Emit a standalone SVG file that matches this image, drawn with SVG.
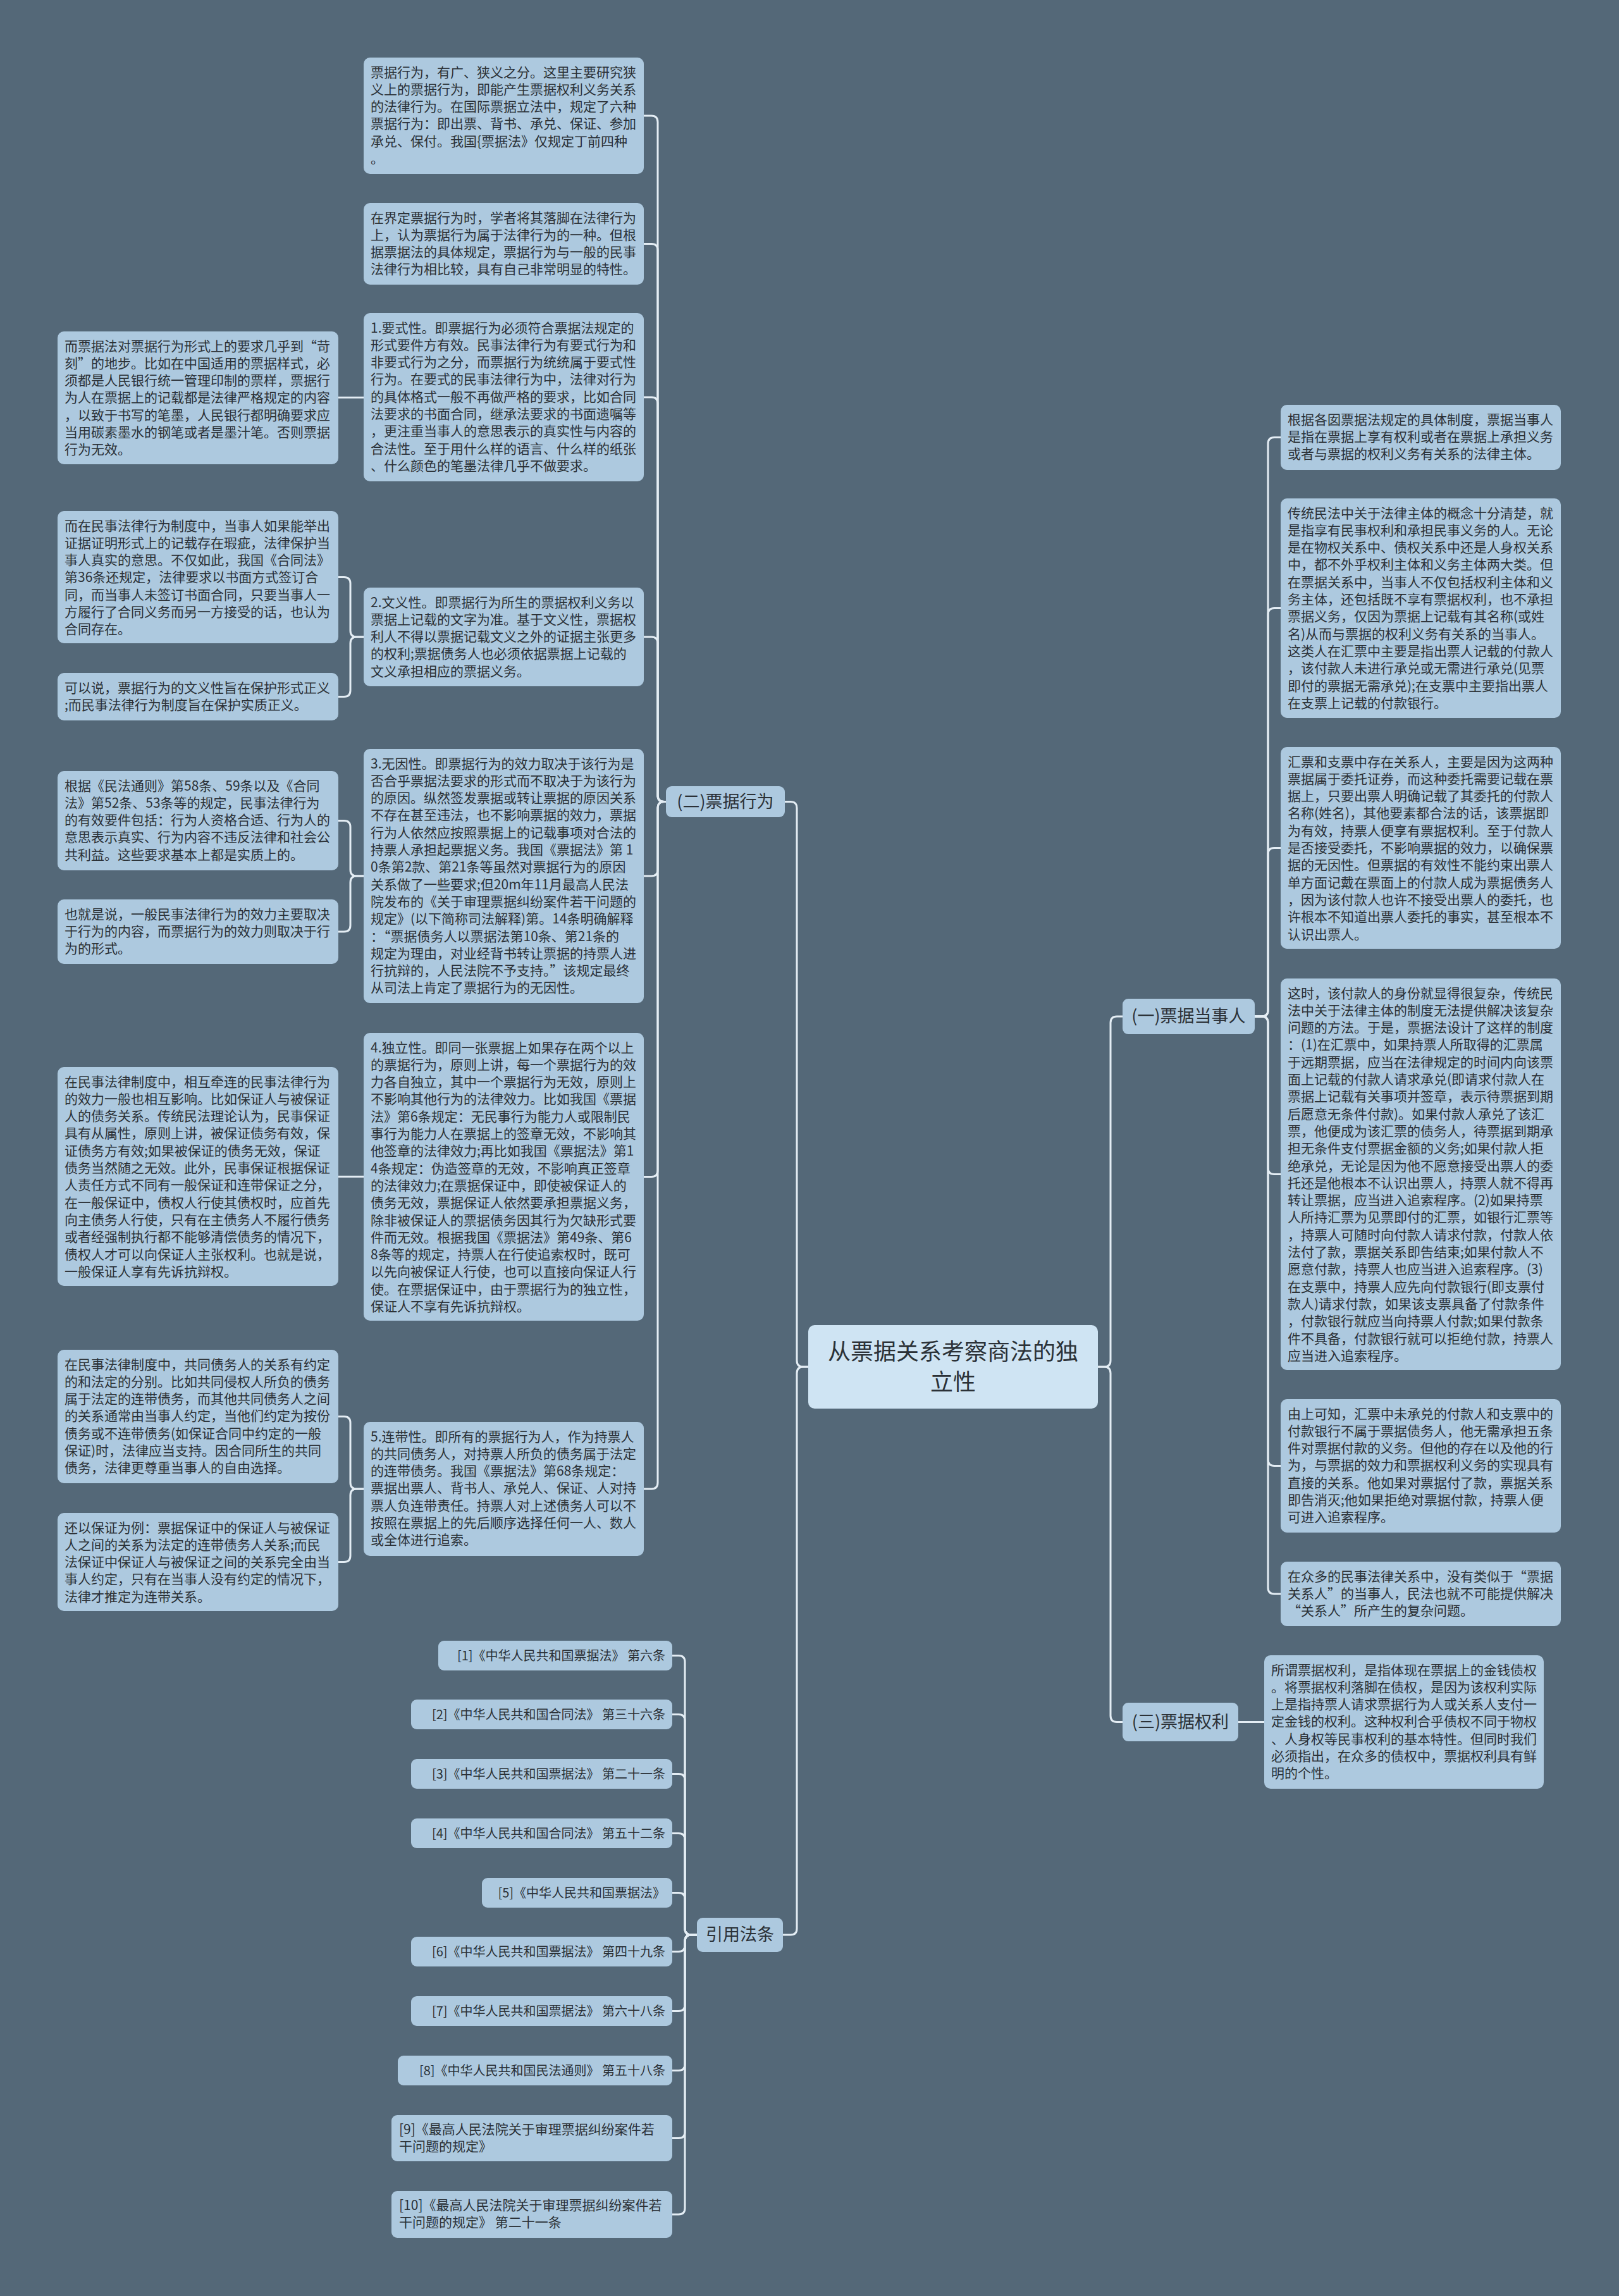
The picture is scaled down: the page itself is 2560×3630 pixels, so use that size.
<svg xmlns="http://www.w3.org/2000/svg" width="2560" height="3630" viewBox="0 0 2560 3630">
<style>
.n{fill:#adc9df}
.cn{fill:#cfe4f3}
.t{font-family:"Noto Sans CJK SC","Noto Sans",sans-serif;font-size:21px;fill:#2b3137}
.rt{font-family:"Noto Sans CJK SC","Noto Sans",sans-serif;font-size:20px;fill:#2b3137;text-anchor:end}
.b{font-family:"Noto Sans CJK SC","Noto Sans",sans-serif;font-size:27px;fill:#2b3137;text-anchor:middle}
.ct{font-family:"Noto Sans CJK SC","Noto Sans",sans-serif;font-size:36px;fill:#2b3137;text-anchor:middle}
.c{fill:none;stroke:#e4edf4;stroke-width:3}
</style>
<rect x="0" y="0" width="2560" height="3630" fill="#546878"/>

<g id="connectors">
<path class="c" d="M1278,2161 H1270 Q1260,2161 1260,2151 V1277.5 Q1260,1267.5 1250,1267.5 H1241"/>
<path class="c" d="M1278,2161 H1270 Q1260,2161 1260,2171 V3049 Q1260,3059 1250,3059 H1238"/>
<path class="c" d="M1736,2161 H1746 Q1756,2161 1756,2151 V1617 Q1756,1607 1766,1607 H1775"/>
<path class="c" d="M1736,2161 H1746 Q1756,2161 1756,2171 V2712.5 Q1756,2722.5 1766,2722.5 H1775"/>

<path class="c" d="M1053,1267.5 H1050 Q1040,1267.5 1040,1257.5 V193 Q1040,183 1030,183 H1018"/>
<path class="c" d="M1053,1267.5 H1050 Q1040,1267.5 1040,1257.5 V395.5 Q1040,385.5 1030,385.5 H1018"/>
<path class="c" d="M1053,1267.5 H1050 Q1040,1267.5 1040,1257.5 V638 Q1040,628 1030,628 H1018"/>
<path class="c" d="M1053,1267.5 H1050 Q1040,1267.5 1040,1257.5 V1017 Q1040,1007 1030,1007 H1018"/>
<path class="c" d="M1053,1267.5 H1050 Q1040,1267.5 1040,1277.5 V1375 Q1040,1385 1030,1385 H1018"/>
<path class="c" d="M1053,1267.5 H1050 Q1040,1267.5 1040,1277.5 V1850.5 Q1040,1860.5 1030,1860.5 H1018"/>
<path class="c" d="M1053,1267.5 H1050 Q1040,1267.5 1040,1277.5 V2344 Q1040,2354 1030,2354 H1018"/>

<path class="c" d="M575,628.5 H535"/>
<path class="c" d="M575,1007 H564 Q554,1007 554,997 V922.5 Q554,912.5 544,912.5 H535"/>
<path class="c" d="M575,1007 H564 Q554,1007 554,1017 V1091.5 Q554,1101.5 544,1101.5 H535"/>
<path class="c" d="M575,1385 H564 Q554,1385 554,1375 V1307.5 Q554,1297.5 544,1297.5 H535"/>
<path class="c" d="M575,1385 H564 Q554,1385 554,1395 V1463 Q554,1473 544,1473 H535"/>
<path class="c" d="M575,1860.3 H535"/>
<path class="c" d="M575,2354 H564 Q554,2354 554,2344 V2249.5 Q554,2239.5 544,2239.5 H535"/>
<path class="c" d="M575,2354 H564 Q554,2354 554,2364 V2459.5 Q554,2469.5 544,2469.5 H535"/>

<path class="c" d="M1984,1607 H1995 Q2005,1607 2005,1597 V701.5 Q2005,691.5 2015,691.5 H2025"/>
<path class="c" d="M1984,1607 H1995 Q2005,1607 2005,1597 V971.5 Q2005,961.5 2015,961.5 H2025"/>
<path class="c" d="M1984,1607 H1995 Q2005,1607 2005,1597 V1350.5 Q2005,1340.5 2015,1340.5 H2025"/>
<path class="c" d="M1984,1607 H1995 Q2005,1607 2005,1617 V1846.5 Q2005,1856.5 2015,1856.5 H2025"/>
<path class="c" d="M1984,1607 H1995 Q2005,1607 2005,1617 V2307.5 Q2005,2317.5 2015,2317.5 H2025"/>
<path class="c" d="M1984,1607 H1995 Q2005,1607 2005,1617 V2510 Q2005,2520 2015,2520 H2025"/>

<path class="c" d="M1958,2722.5 H1999"/>

<path class="c" d="M1102,3059 H1093 Q1083,3059 1083,3049 V2627.5 Q1083,2617.5 1073,2617.5 H1063"/>
<path class="c" d="M1102,3059 H1093 Q1083,3059 1083,3049 V2720.5 Q1083,2710.5 1073,2710.5 H1063"/>
<path class="c" d="M1102,3059 H1093 Q1083,3059 1083,3049 V2814.5 Q1083,2804.5 1073,2804.5 H1063"/>
<path class="c" d="M1102,3059 H1093 Q1083,3059 1083,3049 V2908.5 Q1083,2898.5 1073,2898.5 H1063"/>
<path class="c" d="M1102,3059 H1093 Q1083,3059 1083,3049 V3002.5 Q1083,2992.5 1073,2992.5 H1063"/>
<path class="c" d="M1102,3059 H1093 Q1083,3059 1083,3069 V3075.5 Q1083,3085.5 1073,3085.5 H1063"/>
<path class="c" d="M1102,3059 H1093 Q1083,3059 1083,3069 V3169.5 Q1083,3179.5 1073,3179.5 H1063"/>
<path class="c" d="M1102,3059 H1093 Q1083,3059 1083,3069 V3263.5 Q1083,3273.5 1073,3273.5 H1063"/>
<path class="c" d="M1102,3059 H1093 Q1083,3059 1083,3069 V3370.5 Q1083,3380.5 1073,3380.5 H1063"/>
<path class="c" d="M1102,3059 H1093 Q1083,3059 1083,3069 V3491 Q1083,3501 1073,3501 H1063"/>
</g>

<g id="center">
<rect class="cn" x="1278" y="2095" width="458" height="132" rx="10"/>
<text class="ct" x="1507" y="2150">从票据关系考察商法的独</text>
<text class="ct" x="1507" y="2198">立性</text>
</g>

<g id="branch-xingwei">
<rect class="n" x="1053" y="1243" width="188" height="49" rx="9"/>
<text class="b" x="1147" y="1277">(二)票据行为</text>
</g>
<g id="branch-dangshiren">
<rect class="n" x="1775" y="1579" width="209" height="56" rx="9"/>
<text class="b" x="1879.5" y="1616">(一)票据当事人</text>
</g>
<g id="branch-quanli">
<rect class="n" x="1775" y="2692" width="183" height="61" rx="9"/>
<text class="b" x="1866.5" y="2732">(三)票据权利</text>
</g>
<g id="branch-fatiao">
<rect class="n" x="1102" y="3032" width="136" height="54" rx="9"/>
<text class="b" x="1170" y="3068">引用法条</text>
</g>

<g id="node-a">
<rect class="n" x="575" y="91" width="443" height="184" rx="10"/>
<text class="t" x="586" y="121.5"><tspan x="586">票据行为，有广、狭义之分。这里主要研究狭</tspan><tspan x="586" dy="27.3">义上的票据行为，即能产生票据权利义务关系</tspan><tspan x="586" dy="27.3">的法律行为。在国际票据立法中，规定了六种</tspan><tspan x="586" dy="27.3">票据行为：即出票、背书、承兑、保证、参加</tspan><tspan x="586" dy="27.3">承兑、保付。我国{票据法》仅规定丁前四种</tspan><tspan x="586" dy="27.3">。</tspan></text>
</g>
<g id="node-b">
<rect class="n" x="575" y="321" width="443" height="129" rx="10"/>
<text class="t" x="586" y="351.5"><tspan x="586">在界定票据行为时，学者将其落脚在法律行为</tspan><tspan x="586" dy="27.3">上，认为票据行为属于法律行为的一种。但根</tspan><tspan x="586" dy="27.3">据票据法的具体规定，票据行为与一般的民事</tspan><tspan x="586" dy="27.3">法律行为相比较，具有自己非常明显的特性。</tspan></text>
</g>
<g id="node-c">
<rect class="n" x="575" y="495" width="443" height="266" rx="10"/>
<text class="t" x="586" y="525.5"><tspan x="586">1.要式性。即票据行为必须符合票据法规定的</tspan><tspan x="586" dy="27.3">形式要件方有效。民事法律行为有要式行为和</tspan><tspan x="586" dy="27.3">非要式行为之分，而票据行为统统属于要式性</tspan><tspan x="586" dy="27.3">行为。在要式的民事法律行为中，法律对行为</tspan><tspan x="586" dy="27.3">的具体格式一般不再做严格的要求，比如合同</tspan><tspan x="586" dy="27.3">法要求的书面合同，继承法要求的书面遗嘱等</tspan><tspan x="586" dy="27.3">，更注重当事人的意思表示的真实性与内容的</tspan><tspan x="586" dy="27.3">合法性。至于用什么样的语言、什么样的纸张</tspan><tspan x="586" dy="27.3">、什么颜色的笔墨法律几乎不做要求。</tspan></text>
</g>
<g id="node-d">
<rect class="n" x="575" y="929" width="443" height="156" rx="10"/>
<text class="t" x="586" y="959.5"><tspan x="586">2.文义性。即票据行为所生的票据权利义务以</tspan><tspan x="586" dy="27.3">票据上记载的文字为准。基于文义性，票据权</tspan><tspan x="586" dy="27.3">利人不得以票据记载文义之外的证据主张更多</tspan><tspan x="586" dy="27.3">的权利;票据债务人也必须依据票据上记载的</tspan><tspan x="586" dy="27.3">文义承担相应的票据义务。</tspan></text>
</g>
<g id="node-e">
<rect class="n" x="575" y="1184" width="443" height="402" rx="10"/>
<text class="t" x="586" y="1214.5"><tspan x="586">3.无因性。即票据行为的效力取决于该行为是</tspan><tspan x="586" dy="27.3">否合乎票据法要求的形式而不取决于为该行为</tspan><tspan x="586" dy="27.3">的原因。纵然签发票据或转让票据的原因关系</tspan><tspan x="586" dy="27.3">不存在甚至违法，也不影响票据的效力，票据</tspan><tspan x="586" dy="27.3">行为人依然应按照票据上的记载事项对合法的</tspan><tspan x="586" dy="27.3">持票人承担起票据义务。我国《票据法》第 1</tspan><tspan x="586" dy="27.3">0条第2款、第21条等虽然对票据行为的原因</tspan><tspan x="586" dy="27.3">关系做了一些要求;但20m年11月最高人民法</tspan><tspan x="586" dy="27.3">院发布的《关于审理票据纠纷案件若干问题的</tspan><tspan x="586" dy="27.3">规定》(以下简称司法解释)第。14条明确解释</tspan><tspan x="586" dy="27.3">：“票据债务人以票据法第10条、第21条的</tspan><tspan x="586" dy="27.3">规定为理由，对业经背书转让票据的持票人进</tspan><tspan x="586" dy="27.3">行抗辩的，人民法院不予支持。”该规定最终</tspan><tspan x="586" dy="27.3">从司法上肯定了票据行为的无因性。</tspan></text>
</g>
<g id="node-f">
<rect class="n" x="575" y="1633" width="443" height="455" rx="10"/>
<text class="t" x="586" y="1663.5"><tspan x="586">4.独立性。即同一张票据上如果存在两个以上</tspan><tspan x="586" dy="27.3">的票据行为，原则上讲，每一个票据行为的效</tspan><tspan x="586" dy="27.3">力各自独立，其中一个票据行为无效，原则上</tspan><tspan x="586" dy="27.3">不影响其他行为的法律效力。比如我国《票据</tspan><tspan x="586" dy="27.3">法》第6条规定：无民事行为能力人或限制民</tspan><tspan x="586" dy="27.3">事行为能力人在票据上的签章无效，不影响其</tspan><tspan x="586" dy="27.3">他签章的法律效力;再比如我国《票据法》第1</tspan><tspan x="586" dy="27.3">4条规定：伪造签章的无效，不影响真正签章</tspan><tspan x="586" dy="27.3">的法律效力;在票据保证中，即使被保证人的</tspan><tspan x="586" dy="27.3">债务无效，票据保证人依然要承担票据义务，</tspan><tspan x="586" dy="27.3">除非被保证人的票据债务因其行为欠缺形式要</tspan><tspan x="586" dy="27.3">件而无效。根据我国《票据法》第49条、第6</tspan><tspan x="586" dy="27.3">8条等的规定，持票人在行使追索权时，既可</tspan><tspan x="586" dy="27.3">以先向被保证人行使，也可以直接向保证人行</tspan><tspan x="586" dy="27.3">使。在票据保证中，由于票据行为的独立性，</tspan><tspan x="586" dy="27.3">保证人不享有先诉抗辩权。</tspan></text>
</g>
<g id="node-g">
<rect class="n" x="575" y="2248" width="443" height="212" rx="10"/>
<text class="t" x="586" y="2278.5"><tspan x="586">5.连带性。即所有的票据行为人，作为持票人</tspan><tspan x="586" dy="27.3">的共同债务人，对持票人所负的债务属于法定</tspan><tspan x="586" dy="27.3">的连带债务。我国《票据法》第68条规定：</tspan><tspan x="586" dy="27.3">票据出票人、背书人、承兑人、保证、人对持</tspan><tspan x="586" dy="27.3">票人负连带责任。持票人对上述债务人可以不</tspan><tspan x="586" dy="27.3">按照在票据上的先后顺序选择任何一人、数人</tspan><tspan x="586" dy="27.3">或全体进行追索。</tspan></text>
</g>

<g id="node-h">
<rect class="n" x="91" y="524" width="444" height="210" rx="10"/>
<text class="t" x="102" y="554.5"><tspan x="102">而票据法对票据行为形式上的要求几乎到“苛</tspan><tspan x="102" dy="27.3">刻”的地步。比如在中国适用的票据样式，必</tspan><tspan x="102" dy="27.3">须都是人民银行统一管理印制的票样，票据行</tspan><tspan x="102" dy="27.3">为人在票据上的记载都是法律严格规定的内容</tspan><tspan x="102" dy="27.3">，以致于书写的笔墨，人民银行都明确要求应</tspan><tspan x="102" dy="27.3">当用碳素墨水的钢笔或者是墨汁笔。否则票据</tspan><tspan x="102" dy="27.3">行为无效。</tspan></text>
</g>
<g id="node-i">
<rect class="n" x="91" y="808" width="444" height="209" rx="10"/>
<text class="t" x="102" y="838.5"><tspan x="102">而在民事法律行为制度中，当事人如果能举出</tspan><tspan x="102" dy="27.3">证据证明形式上的记载存在瑕疵，法律保护当</tspan><tspan x="102" dy="27.3">事人真实的意思。不仅如此，我国《合同法》</tspan><tspan x="102" dy="27.3">第36条还规定，法律要求以书面方式签订合</tspan><tspan x="102" dy="27.3">同，而当事人未签订书面合同，只要当事人一</tspan><tspan x="102" dy="27.3">方履行了合同义务而另一方接受的话，也认为</tspan><tspan x="102" dy="27.3">合同存在。</tspan></text>
</g>
<g id="node-j">
<rect class="n" x="91" y="1064" width="444" height="75" rx="10"/>
<text class="t" x="102" y="1094.5"><tspan x="102">可以说，票据行为的文义性旨在保护形式正义</tspan><tspan x="102" dy="27.3">;而民事法律行为制度旨在保护实质正义。</tspan></text>
</g>
<g id="node-k">
<rect class="n" x="91" y="1219" width="444" height="157" rx="10"/>
<text class="t" x="102" y="1249.5"><tspan x="102">根据《民法通则》第58条、59条以及《合同</tspan><tspan x="102" dy="27.3">法》第52条、53条等的规定，民事法律行为</tspan><tspan x="102" dy="27.3">的有效要件包括：行为人资格合适、行为人的</tspan><tspan x="102" dy="27.3">意思表示真实、行为内容不违反法律和社会公</tspan><tspan x="102" dy="27.3">共利益。这些要求基本上都是实质上的。</tspan></text>
</g>
<g id="node-l">
<rect class="n" x="91" y="1422" width="444" height="102" rx="10"/>
<text class="t" x="102" y="1452.5"><tspan x="102">也就是说，一般民事法律行为的效力主要取决</tspan><tspan x="102" dy="27.3">于行为的内容，而票据行为的效力则取决于行</tspan><tspan x="102" dy="27.3">为的形式。</tspan></text>
</g>
<g id="node-m">
<rect class="n" x="91" y="1687" width="444" height="346" rx="10"/>
<text class="t" x="102" y="1717.5"><tspan x="102">在民事法律制度中，相互牵连的民事法律行为</tspan><tspan x="102" dy="27.3">的效力一般也相互影响。比如保证人与被保证</tspan><tspan x="102" dy="27.3">人的债务关系。传统民法理论认为，民事保证</tspan><tspan x="102" dy="27.3">具有从属性，原则上讲，被保证债务有效，保</tspan><tspan x="102" dy="27.3">证债务方有效;如果被保证的债务无效，保证</tspan><tspan x="102" dy="27.3">债务当然随之无效。此外，民事保证根据保证</tspan><tspan x="102" dy="27.3">人责任方式不同有一般保证和连带保证之分，</tspan><tspan x="102" dy="27.3">在一般保证中，债权人行使其债权时，应首先</tspan><tspan x="102" dy="27.3">向主债务人行使，只有在主债务人不履行债务</tspan><tspan x="102" dy="27.3">或者经强制执行都不能够清偿债务的情况下，</tspan><tspan x="102" dy="27.3">债权人才可以向保证人主张权利。也就是说，</tspan><tspan x="102" dy="27.3">一般保证人享有先诉抗辩权。</tspan></text>
</g>
<g id="node-n">
<rect class="n" x="91" y="2134" width="444" height="211" rx="10"/>
<text class="t" x="102" y="2164.5"><tspan x="102">在民事法律制度中，共同债务人的关系有约定</tspan><tspan x="102" dy="27.3">的和法定的分别。比如共同侵权人所负的债务</tspan><tspan x="102" dy="27.3">属于法定的连带债务，而其他共同债务人之间</tspan><tspan x="102" dy="27.3">的关系通常由当事人约定，当他们约定为按份</tspan><tspan x="102" dy="27.3">债务或不连带债务(如保证合同中约定的一般</tspan><tspan x="102" dy="27.3">保证)时，法律应当支持。因合同所生的共同</tspan><tspan x="102" dy="27.3">债务，法律更尊重当事人的自由选择。</tspan></text>
</g>
<g id="node-o">
<rect class="n" x="91" y="2392" width="444" height="155" rx="10"/>
<text class="t" x="102" y="2422.5"><tspan x="102">还以保证为例：票据保证中的保证人与被保证</tspan><tspan x="102" dy="27.3">人之间的关系为法定的连带债务人关系;而民</tspan><tspan x="102" dy="27.3">法保证中保证人与被保证之间的关系完全由当</tspan><tspan x="102" dy="27.3">事人约定，只有在当事人没有约定的情况下，</tspan><tspan x="102" dy="27.3">法律才推定为连带关系。</tspan></text>
</g>

<g id="node-p">
<rect class="n" x="2025" y="640" width="443" height="103" rx="10"/>
<text class="t" x="2036" y="670.5"><tspan x="2036">根据各囡票据法规定的具体制度，票据当事人</tspan><tspan x="2036" dy="27.3">是指在票据上享有权利或者在票据上承担义务</tspan><tspan x="2036" dy="27.3">或者与票据的权利义务有关系的法律主体。</tspan></text>
</g>
<g id="node-q">
<rect class="n" x="2025" y="788" width="443" height="347" rx="10"/>
<text class="t" x="2036" y="818.5"><tspan x="2036">传统民法中关于法律主体的概念十分清楚，就</tspan><tspan x="2036" dy="27.3">是指享有民事权利和承担民事义务的人。无论</tspan><tspan x="2036" dy="27.3">是在物权关系中、债权关系中还是人身权关系</tspan><tspan x="2036" dy="27.3">中，都不外乎权利主体和义务主体两大类。但</tspan><tspan x="2036" dy="27.3">在票据关系中，当事人不仅包括权利主体和义</tspan><tspan x="2036" dy="27.3">务主体，还包括既不享有票据权利，也不承担</tspan><tspan x="2036" dy="27.3">票据义务，仅因为票据上记载有其名称(或姓</tspan><tspan x="2036" dy="27.3">名)从而与票据的权利义务有关系的当事人。</tspan><tspan x="2036" dy="27.3">这类人在汇票中主要是指出票人记载的付款人</tspan><tspan x="2036" dy="27.3">，该付款人未进行承兑或无需进行承兑(见票</tspan><tspan x="2036" dy="27.3">即付的票据无需承兑);在支票中主要指出票人</tspan><tspan x="2036" dy="27.3">在支票上记载的付款银行。</tspan></text>
</g>
<g id="node-r">
<rect class="n" x="2025" y="1181" width="443" height="319" rx="10"/>
<text class="t" x="2036" y="1211.5"><tspan x="2036">汇票和支票中存在关系人，主要是因为这两种</tspan><tspan x="2036" dy="27.3">票据属于委托证券，而这种委托需要记载在票</tspan><tspan x="2036" dy="27.3">据上，只要出票人明确记载了其委托的付款人</tspan><tspan x="2036" dy="27.3">名称(姓名)，其他要素都合法的话，该票据即</tspan><tspan x="2036" dy="27.3">为有效，持票人便享有票据权利。至于付款人</tspan><tspan x="2036" dy="27.3">是否接受委托，不影响票据的效力，以确保票</tspan><tspan x="2036" dy="27.3">据的无因性。但票据的有效性不能约束出票人</tspan><tspan x="2036" dy="27.3">单方面记戴在票面上的付款人成为票据债务人</tspan><tspan x="2036" dy="27.3">，因为该付款人也许不接受出票人的委托，也</tspan><tspan x="2036" dy="27.3">许根本不知道出票人委托的事实，甚至根本不</tspan><tspan x="2036" dy="27.3">认识出票人。</tspan></text>
</g>
<g id="node-s">
<rect class="n" x="2025" y="1547" width="443" height="619" rx="10"/>
<text class="t" x="2036" y="1577.5"><tspan x="2036">这时，该付款人的身份就显得很复杂，传统民</tspan><tspan x="2036" dy="27.3">法中关于法律主体的制度无法提供解决该复杂</tspan><tspan x="2036" dy="27.3">问题的方法。于是，票据法设计了这样的制度</tspan><tspan x="2036" dy="27.3">：(1)在汇票中，如果持票人所取得的汇票属</tspan><tspan x="2036" dy="27.3">于远期票据，应当在法律规定的时间内向该票</tspan><tspan x="2036" dy="27.3">面上记载的付款人请求承兑(即请求付款人在</tspan><tspan x="2036" dy="27.3">票据上记载有关事项并签章，表示待票据到期</tspan><tspan x="2036" dy="27.3">后愿意无条件付款)。如果付款人承兑了该汇</tspan><tspan x="2036" dy="27.3">票，他便成为该汇票的债务人，待票据到期承</tspan><tspan x="2036" dy="27.3">担无条件支付票据金额的义务;如果付款人拒</tspan><tspan x="2036" dy="27.3">绝承兑，无论是因为他不愿意接受出票人的委</tspan><tspan x="2036" dy="27.3">托还是他根本不认识出票人，持票人就不得再</tspan><tspan x="2036" dy="27.3">转让票据，应当进入追索程序。(2)如果持票</tspan><tspan x="2036" dy="27.3">人所持汇票为见票即付的汇票，如银行汇票等</tspan><tspan x="2036" dy="27.3">，持票人可随时向付款人请求付款，付款人依</tspan><tspan x="2036" dy="27.3">法付了款，票据关系即告结束;如果付款人不</tspan><tspan x="2036" dy="27.3">愿意付款，持票人也应当进入追索程序。(3)</tspan><tspan x="2036" dy="27.3">在支票中，持票人应先向付款银行(即支票付</tspan><tspan x="2036" dy="27.3">款人)请求付款，如果该支票具备了付款条件</tspan><tspan x="2036" dy="27.3">，付款银行就应当向持票人付款;如果付款条</tspan><tspan x="2036" dy="27.3">件不具备，付款银行就可以拒绝付款，持票人</tspan><tspan x="2036" dy="27.3">应当进入追索程序。</tspan></text>
</g>
<g id="node-t">
<rect class="n" x="2025" y="2212" width="443" height="211" rx="10"/>
<text class="t" x="2036" y="2242.5"><tspan x="2036">由上可知，汇票中未承兑的付款人和支票中的</tspan><tspan x="2036" dy="27.3">付款银行不属于票据债务人，他无需承担五条</tspan><tspan x="2036" dy="27.3">件对票据付款的义务。但他的存在以及他的行</tspan><tspan x="2036" dy="27.3">为，与票据的效力和票据权利义务的实现具有</tspan><tspan x="2036" dy="27.3">直接的关系。他如果对票据付了款，票据关系</tspan><tspan x="2036" dy="27.3">即告消灭;他如果拒绝对票据付款，持票人便</tspan><tspan x="2036" dy="27.3">可进入追索程序。</tspan></text>
</g>
<g id="node-u">
<rect class="n" x="2025" y="2469" width="443" height="102" rx="10"/>
<text class="t" x="2036" y="2499.5"><tspan x="2036">在众多的民事法律关系中，没有类似于“票据</tspan><tspan x="2036" dy="27.3">关系人”的当事人，民法也就不可能提供解决</tspan><tspan x="2036" dy="27.3">“关系人”所产生的复杂问题。</tspan></text>
</g>
<g id="node-v">
<rect class="n" x="1999" y="2617" width="442" height="211" rx="10"/>
<text class="t" x="2010" y="2647.5"><tspan x="2010">所谓票据权利，是指体现在票据上的金钱债权</tspan><tspan x="2010" dy="27.3">。将票据权利落脚在债权，是因为该权利实际</tspan><tspan x="2010" dy="27.3">上是指持票人请求票据行为人或关系人支付一</tspan><tspan x="2010" dy="27.3">定金钱的权利。这种权利合乎债权不同于物权</tspan><tspan x="2010" dy="27.3">、人身权等民事权利的基本特性。但同时我们</tspan><tspan x="2010" dy="27.3">必须指出，在众多的债权中，票据权利具有鲜</tspan><tspan x="2010" dy="27.3">明的个性。</tspan></text>
</g>

<g id="ref-1">
<rect class="n" x="693" y="2594" width="370" height="47" rx="9"/>
<text class="rt" x="1052" y="2625">[1]《中华人民共和国票据法》 第六条</text>
</g>
<g id="ref-2">
<rect class="n" x="650" y="2687" width="413" height="47" rx="9"/>
<text class="rt" x="1052" y="2718">[2]《中华人民共和国合同法》 第三十六条</text>
</g>
<g id="ref-3">
<rect class="n" x="650" y="2781" width="413" height="47" rx="9"/>
<text class="rt" x="1052" y="2812">[3]《中华人民共和国票据法》 第二十一条</text>
</g>
<g id="ref-4">
<rect class="n" x="650" y="2875" width="413" height="47" rx="9"/>
<text class="rt" x="1052" y="2906">[4]《中华人民共和国合同法》 第五十二条</text>
</g>
<g id="ref-5">
<rect class="n" x="762" y="2969" width="301" height="47" rx="9"/>
<text class="rt" x="1052" y="3000">[5]《中华人民共和国票据法》</text>
</g>
<g id="ref-6">
<rect class="n" x="650" y="3062" width="413" height="47" rx="9"/>
<text class="rt" x="1052" y="3093">[6]《中华人民共和国票据法》 第四十九条</text>
</g>
<g id="ref-7">
<rect class="n" x="650" y="3156" width="413" height="47" rx="9"/>
<text class="rt" x="1052" y="3187">[7]《中华人民共和国票据法》 第六十八条</text>
</g>
<g id="ref-8">
<rect class="n" x="629" y="3250" width="434" height="47" rx="9"/>
<text class="rt" x="1052" y="3281">[8]《中华人民共和国民法通则》 第五十八条</text>
</g>
<g id="ref-9">
<rect class="n" x="619" y="3344" width="444" height="73" rx="9"/>
<text class="t" x="631" y="3374"><tspan x="631">[9]《最高人民法院关于审理票据纠纷案件若</tspan><tspan x="631" dy="27.3">干问题的规定》</tspan></text>
</g>
<g id="ref-10">
<rect class="n" x="619" y="3464" width="444" height="74" rx="9"/>
<text class="t" x="631" y="3494"><tspan x="631">[10]《最高人民法院关于审理票据纠纷案件若</tspan><tspan x="631" dy="27.3">干问题的规定》 第二十一条</tspan></text>
</g>
</svg>
